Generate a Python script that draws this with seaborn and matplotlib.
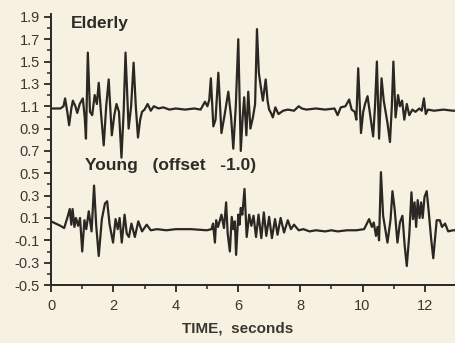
import numpy as np
import pandas as pd
import matplotlib
matplotlib.use("Agg")
import matplotlib.pyplot as plt
import seaborn as sns
from matplotlib.ticker import MultipleLocator

elderly_t = [0, 0.3, 0.4, 0.45, 0.52, 0.58, 0.65, 0.70, 0.78, 0.84, 0.92, 1.02, 1.08, 1.12, 1.18, 1.25,
             1.32, 1.40, 1.47, 1.53, 1.60, 1.69, 1.77, 1.85, 1.95, 2.03, 2.10, 2.18, 2.26, 2.33, 2.39,
             2.49, 2.57, 2.65, 2.72, 2.79, 2.86, 2.92, 3.0, 3.1, 3.2, 3.3, 3.45, 3.6, 3.8, 4.0, 4.3,
             4.6, 4.8, 4.94, 5.02, 5.08, 5.13, 5.21, 5.28, 5.37, 5.47, 5.57, 5.69, 5.78, 5.85, 5.93,
             6.01, 6.09, 6.15, 6.20, 6.27, 6.33, 6.40, 6.48, 6.55, 6.61, 6.67, 6.73, 6.80, 6.89, 6.95,
             7.00, 7.06, 7.12, 7.20, 7.30, 7.45, 7.60, 7.80, 7.95, 8.05, 8.2, 8.5, 8.8, 9.1, 9.2, 9.3,
             9.45, 9.57, 9.65, 9.75, 9.80, 9.86, 9.95, 10.02, 10.08, 10.16, 10.26, 10.34, 10.40, 10.46,
             10.53, 10.61, 10.68, 10.74, 10.80, 10.88, 10.94, 10.99, 11.06, 11.14, 11.20, 11.27, 11.34,
             11.42, 11.50, 11.60, 11.70, 11.82, 11.90, 11.97, 12.03, 12.10, 12.3, 12.6, 12.9, 13.0]
elderly_v = [1.08, 1.08, 1.10, 1.17, 1.05, 0.93, 1.08, 1.15, 1.10, 1.04, 1.12, 1.17, 1.00, 0.81, 1.58, 1.05,
             1.02, 1.20, 1.12, 1.31, 1.05, 0.75, 1.10, 1.34, 0.84, 1.02, 1.12, 1.05, 0.64, 1.05, 1.58,
             0.90, 1.10, 1.49, 1.10, 0.82, 0.98, 1.05, 1.07, 1.12, 1.06, 1.10, 1.08, 1.09, 1.07, 1.08, 1.07,
             1.08, 1.07, 1.14, 1.10, 1.16, 1.35, 0.92, 0.98, 1.40, 0.86, 1.02, 1.23, 1.00, 0.72, 1.10,
             1.70, 0.70, 1.00, 1.18, 0.84, 1.23, 0.90, 1.00, 1.12, 1.79, 1.40, 1.28, 1.15, 1.34, 1.15,
             1.07, 1.04, 1.00, 1.09, 1.03, 1.06, 1.07, 1.06, 1.10, 1.08, 1.07, 1.08, 1.07, 1.08, 1.02, 1.09,
             1.10, 1.16, 1.07, 1.05, 0.98, 1.44, 0.86, 1.05, 1.12, 1.19, 0.99, 0.83, 1.10, 1.50,
             0.81, 1.35, 1.15, 1.05, 0.95, 0.78, 1.10, 1.50, 1.00, 1.20, 1.10, 1.15, 0.98,
             1.12, 1.02, 1.07, 1.05, 1.08, 1.06, 1.17, 1.03, 1.07, 1.06, 1.07, 1.06, 1.06]

young_t = [0, 0.15, 0.3, 0.42, 0.52, 0.60, 0.65, 0.69, 0.75, 0.80, 0.87, 0.93, 1.00, 1.07, 1.13, 1.21,
           1.30, 1.38, 1.45, 1.53, 1.63, 1.73, 1.80, 1.88, 1.99, 2.07, 2.14, 2.20, 2.27, 2.36, 2.43,
           2.50, 2.58, 2.69, 2.80, 2.92, 3.07, 3.20, 3.40, 3.7, 4.0, 4.5, 5.0, 5.15, 5.20, 5.26, 5.30,
           5.36, 5.47, 5.55, 5.62, 5.67, 5.74, 5.80, 5.85, 5.90, 5.94, 6.01, 6.05, 6.09, 6.14, 6.21,
           6.28, 6.36, 6.43, 6.50, 6.58, 6.66, 6.75, 6.83, 6.91, 7.00, 7.09, 7.19, 7.27, 7.37, 7.48,
           7.60, 7.70, 7.80, 7.95, 8.1, 8.3, 8.5, 8.8, 9.0, 9.2, 9.5, 9.8, 10.05, 10.21, 10.30, 10.36,
           10.43, 10.48, 10.53, 10.59, 10.66, 10.80, 10.90, 10.96, 11.03, 11.12, 11.20, 11.28, 11.35,
           11.42, 11.50, 11.57, 11.62, 11.67, 11.72, 11.77, 11.83, 11.88, 11.93, 11.99, 12.06, 12.13,
           12.20, 12.27, 12.38, 12.48, 12.55, 12.65, 12.75, 12.9, 13.0]
young_v = [0.07, 0.05, 0.03, 0.01, 0.10, 0.18, 0.04, 0.18, 0.02, 0.10, 0.03, 0.10, -0.20, 0.08, 0.00, 0.16,
           -0.02, 0.39, 0.03, -0.24, 0.09, 0.23, 0.25, 0.04, -0.12, 0.09, 0.00, 0.10, -0.12, 0.13, -0.04,
           -0.07, 0.05, -0.07, 0.07, -0.02, 0.04, -0.01, 0.00, -0.01, 0.00, 0.00, -0.01, 0.00, 0.05, -0.12, 0.08,
           0.02, 0.13, 0.01, 0.24, -0.04, -0.20, 0.11, 0.00, 0.07, -0.23, 0.13, 0.04, 0.19, 0.13, 0.36,
           -0.07, 0.13, 0.03, 0.12, -0.07, 0.13, -0.08, 0.15, -0.06, 0.11, -0.08, 0.09, -0.05, 0.10, -0.03,
           0.08, 0.00, 0.04, -0.01, 0.00, -0.02, -0.01, -0.02, -0.01, -0.02, -0.01, -0.01, 0.00, 0.09, 0.02, 0.06,
           -0.06, 0.02, -0.10, 0.51, 0.12, -0.12, 0.09, 0.34, 0.18, -0.12, 0.06, 0.12, -0.14,
           -0.33, -0.05, 0.33, 0.09, 0.24, 0.02, 0.26, 0.10, 0.24, 0.10, 0.29, 0.34, 0.14,
           -0.08, -0.26, 0.08, 0.08, 0.02, 0.05, -0.02, -0.01, -0.01]

y_ticks = [1.9, 1.7, 1.5, 1.3, 1.1, 0.9, 0.7, 0.5, 0.3, 0.1, -0.1, -0.3, -0.5]
x_ticks = [0, 2, 4, 6, 8, 10, 12]

df = pd.concat([
    pd.DataFrame({"t": elderly_t, "v": elderly_v, "group": "Elderly"}),
    pd.DataFrame({"t": young_t, "v": young_v, "group": "Young"}),
])

bg = "#f7f1e1"
ink = "#2b2723"
sns.set_style("ticks")
plt.rcParams["font.family"] = ["Liberation Sans", "DejaVu Sans"]

fig = plt.figure(figsize=(4.56, 3.43), dpi=100, facecolor=bg)
ax = fig.add_axes([0.112, 0.169, 0.888, 0.79])
ax.set_facecolor(bg)

sns.lineplot(data=df, x="t", y="v", units="group", estimator=None, sort=False,
             color=ink, linewidth=1.6, ax=ax, legend=False)

ax.set_xlim(0, 13)
ax.set_ylim(-0.5, 1.925)
ax.set_xticks(x_ticks)
ax.set_yticks(y_ticks)
ax.set_yticklabels([f"{v:.1f}" for v in y_ticks])
ax.xaxis.set_minor_locator(MultipleLocator(1))
ax.yaxis.set_minor_locator(MultipleLocator(0.1))
ax.tick_params(axis="both", which="major", direction="out", length=5, width=1.3,
               colors=ink, labelsize=10.5, labelcolor="#3a3632")
ax.tick_params(axis="both", which="minor", direction="out", length=3, width=1.1, colors=ink)
ax.tick_params(axis="x", pad=5)
ax.tick_params(axis="y", pad=3)
for s in ["top", "right"]:
    ax.spines[s].set_visible(False)
for s in ["left", "bottom"]:
    ax.spines[s].set_linewidth(1.4)
    ax.spines[s].set_color(ink)

ax.set_xlabel("TIME,  seconds", fontsize=11, fontweight="bold", color="#3a3632", labelpad=5)
ax.xaxis.set_label_coords(0.46, -0.135)
ax.set_ylabel("")
ax.text(0.64, 1.84, "Elderly", fontsize=12.5, fontweight="bold", color="#2f2b27", va="center")
ax.text(1.1, 0.57, "Young   (offset   -1.0)", fontsize=12.5, fontweight="bold", color="#2f2b27", va="center")

fig.savefig("out.png", dpi=100, facecolor=bg)
